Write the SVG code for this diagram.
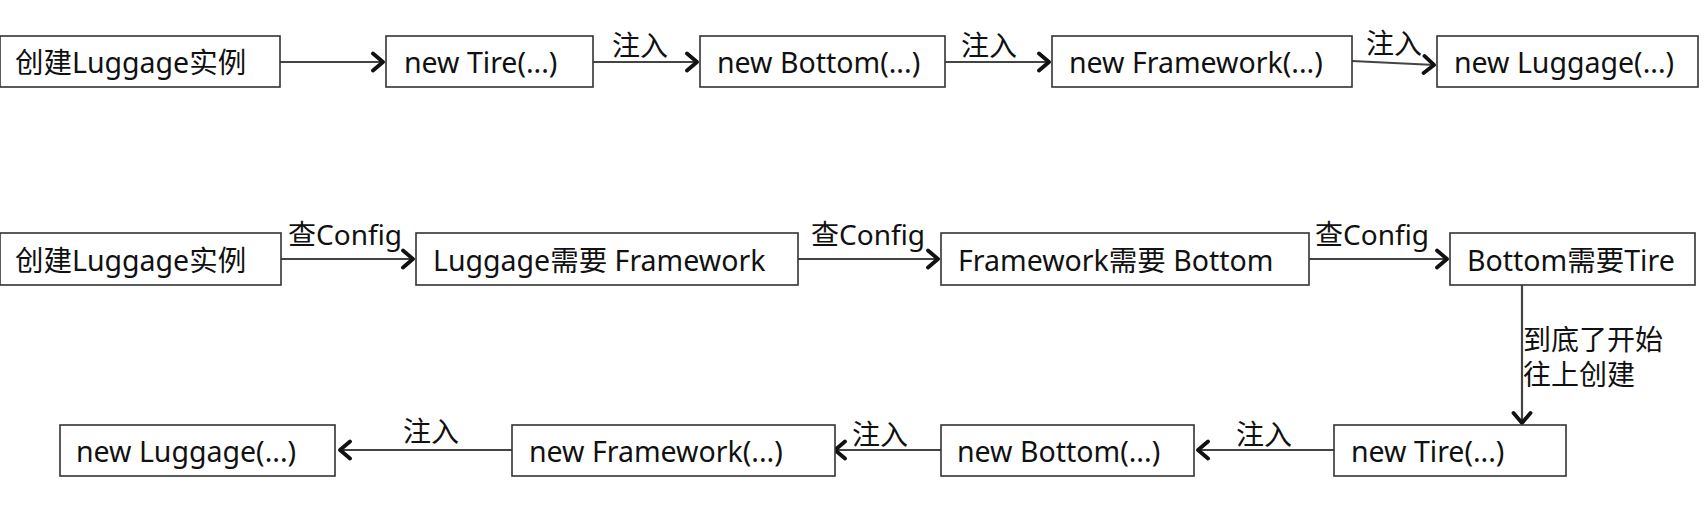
<svg xmlns="http://www.w3.org/2000/svg" width="1707" height="531" viewBox="0 0 1707 531">
<defs>
<style>
.box{fill:#fff;stroke:#333;stroke-width:1.6}
.t{font-family:"Noto Sans","Noto Sans CJK SC",sans-serif;font-size:28.5px;fill:#111;dominant-baseline:central}
.lbl{font-family:"Noto Sans","Noto Sans CJK SC",sans-serif;font-size:28px;fill:#111;dominant-baseline:central}
.c{fill:none;stroke:#444;stroke-width:2.2}
</style>
<marker id="ah" viewBox="0 0 16 22" refX="14" refY="11" markerWidth="16" markerHeight="22" markerUnits="userSpaceOnUse" orient="auto">
<path d="M3,2.5 L13,11 L3,19.5" fill="none" stroke="#111" stroke-width="3.8" stroke-linecap="round" stroke-linejoin="round"/>
</marker>
</defs>
<rect width="1707" height="531" fill="#fff"/>

<g id="connectors">
<path class="c" d="M280,62 H384" marker-end="url(#ah)"/>
<path class="c" d="M593,62 H698" marker-end="url(#ah)"/>
<path class="c" d="M945,62 H1050" marker-end="url(#ah)"/>
<path class="c" d="M1352,61 L1435,65" marker-end="url(#ah)"/>
<path class="c" d="M281,259 H414" marker-end="url(#ah)"/>
<path class="c" d="M798,259 H939" marker-end="url(#ah)"/>
<path class="c" d="M1309,259 H1448" marker-end="url(#ah)"/>
<path class="c" d="M1522,285 V424" marker-end="url(#ah)"/>
<path class="c" d="M1334,450 H1197" marker-end="url(#ah)"/>
<path class="c" d="M941,450 H834" marker-end="url(#ah)"/>
<path class="c" d="M512,450 H339" marker-end="url(#ah)"/>
<text class="lbl" x="612" y="45">注入</text>
<text class="lbl" x="961" y="45">注入</text>
<text class="lbl" x="1366" y="43">注入</text>
<text class="lbl" x="288" y="234">查Config</text>
<text class="lbl" x="811" y="234">查Config</text>
<text class="lbl" x="1315" y="234">查Config</text>
<text class="lbl" x="1523" y="339">到底了开始</text>
<text class="lbl" x="1523" y="374">往上创建</text>
<text class="lbl" x="1236" y="434">注入</text>
<text class="lbl" x="852" y="434">注入</text>
<text class="lbl" x="403" y="431">注入</text>
</g>

<g id="r1n1"><rect class="box" x="0" y="36" width="280" height="51"/><text class="t" x="15" y="62">创建Luggage实例</text></g>
<g id="r1n2"><rect class="box" x="386" y="36" width="207" height="51"/><text class="t" x="404" y="62">new Tire(...)</text></g>
<g id="r1n3"><rect class="box" x="700" y="36" width="245" height="51"/><text class="t" x="717" y="62">new Bottom(...)</text></g>
<g id="r1n4"><rect class="box" x="1052" y="36" width="300" height="51"/><text class="t" x="1069" y="62">new Framework(...)</text></g>
<g id="r1n5"><rect class="box" x="1437" y="36" width="261" height="51"/><text class="t" x="1454" y="62">new Luggage(...)</text></g>

<g id="r2n1"><rect class="box" x="0" y="233" width="281" height="52"/><text class="t" x="15" y="260">创建Luggage实例</text></g>
<g id="r2n2"><rect class="box" x="416" y="233" width="382" height="52"/><text class="t" x="433" y="260">Luggage需要 Framework</text></g>
<g id="r2n3"><rect class="box" x="941" y="233" width="368" height="52"/><text class="t" x="958" y="260">Framework需要 Bottom</text></g>
<g id="r2n4"><rect class="box" x="1450" y="233" width="245" height="52"/><text class="t" x="1467" y="260">Bottom需要Tire</text></g>

<g id="r3n1"><rect class="box" x="1334" y="425" width="232" height="51"/><text class="t" x="1351" y="451">new Tire(...)</text></g>
<g id="r3n2"><rect class="box" x="941" y="425" width="253" height="51"/><text class="t" x="957" y="451">new Bottom(...)</text></g>
<g id="r3n3"><rect class="box" x="512" y="425" width="323" height="51"/><text class="t" x="529" y="451">new Framework(...)</text></g>
<g id="r3n4"><rect class="box" x="60" y="425" width="275" height="51"/><text class="t" x="76" y="451">new Luggage(...)</text></g>
</svg>
